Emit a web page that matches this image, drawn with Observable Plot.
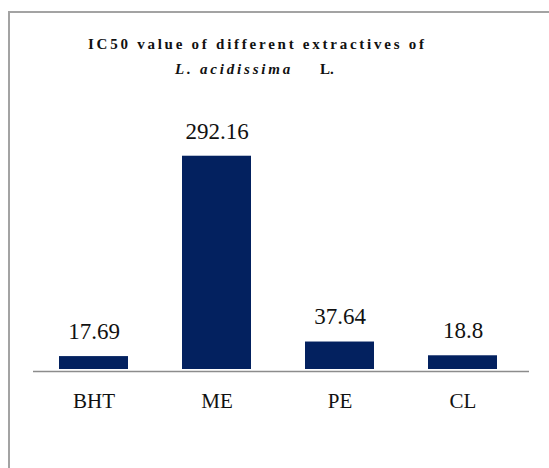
<!DOCTYPE html>
<html>
<head>
<meta charset="utf-8">
<script src="https://cdn.jsdelivr.net/npm/d3@7"></script>
<script src="https://cdn.jsdelivr.net/npm/@observablehq/plot@0.6"></script>
<style>
  html, body { margin: 0; padding: 0; background: #fff; }
  body { width: 549px; height: 468px; overflow: hidden; position: relative; font-family: "Liberation Serif", "Times New Roman", serif; }
  #frame { position: absolute; left: 8px; top: 11px; width: 700px; height: 700px; border-left: 2px solid #a3a3a3; border-top: 2px solid #a3a3a3; box-sizing: border-box; }
  .t { position: absolute; white-space: nowrap; font-family: "Liberation Serif", serif; font-weight: bold; font-size: 15px; line-height: 15px; color: #111; }
  #t1 { left: 88px; top: 37px; letter-spacing: 2.75px; }
  #t2 { left: 175px; top: 62px; letter-spacing: 2.8px; font-style: italic; }
  #t3 { left: 320px; top: 62px; }
  #chart { position: absolute; left: 0; top: 90px; }
  #chart svg, #chart svg text { font-family: "Liberation Serif", "Times New Roman", serif !important; }
</style>
</head>
<body>
<div id="frame"></div>
<div class="t" id="t1">IC50 value of different extractives of</div>
<div class="t" id="t2">L. acidissima</div>
<div class="t" id="t3">L.</div>
<div id="chart"></div>
<script>
const categories = ["BHT", "ME", "PE", "CL"];
const values = [17.69, 292.16, 37.64, 18.8];
const valueLabels = ["17.69", "292.16", "37.64", "18.8"];

const data = categories.map((c, i) => ({cat: c, value: values[i], label: valueLabels[i]}));
const serif = "Liberation Serif";

const plot = Plot.plot({
  width: 549,
  height: 378,
  marginLeft: 31,
  marginRight: 24,
  marginTop: 60,
  marginBottom: 99,
  style: {color: "#111", background: "transparent"},
  x: {domain: categories, paddingInner: 0.435, paddingOuter: 0.2175, label: null},
  y: {domain: [0, 300], axis: null},
  marks: [
    Plot.barY(data, {x: "cat", y: "value", fill: "#03215f"}),
    Plot.ruleY([0], {stroke: "#8c8c8c", strokeWidth: 1.5, dy: 2, insetLeft: 2, insetRight: -4}),
    Plot.text(data, {x: "cat", y: "value", text: "label", dy: -25, fontSize: 23, fontFamily: serif, fill: "#111"}),
    Plot.axisX({tickSize: 0, tickPadding: 24, fontSize: 21, fontFamily: serif, label: null, fill: "#111"})
  ]
});
document.getElementById("chart").appendChild(plot);
</script>
</body>
</html>
